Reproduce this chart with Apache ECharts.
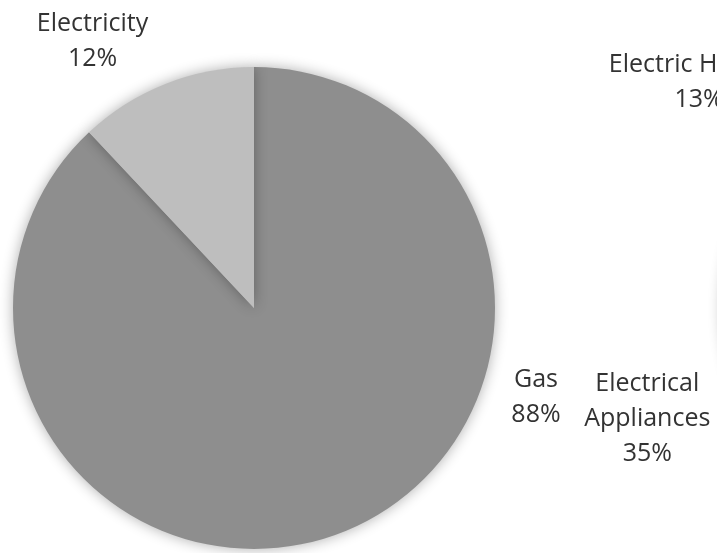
<!DOCTYPE html>
<html>
<head>
<meta charset="utf-8">
<script src="https://cdn.jsdelivr.net/npm/echarts@6/dist/echarts.min.js"></script>
<style>
html,body{margin:0;padding:0;background:#fff;}
#chart{width:717px;height:553px;}
</style>
</head>
<body>
<div id="chart"></div>
<script>
// Left pie: energy source
const sourceCategories = ['Gas', 'Electricity'];
const sourceValues = [88, 12];
// Right pie: electricity use (only part visible)
const useCategories = ['Other', 'Electrical Appliances', 'Electric Heating'];
const useValues = [52, 35, 13];

const sourceColors = ['#8e8e8e', '#bebebe'];
const useColors = ['#f4f4f4', '#a6a6a6', '#d0d0d0'];

// label anchors, in units of the pie radius relative to the pie centre
const sourceLabelAnchor = [[1.17, 0.37], [-0.67, -1.105]];
const useLabelAnchor = [null, [-1.31, 0.46], [-1.095, -0.935]];

const R = 241;
const leftCenter = [254, 308];
const rightCenter = [963, 308];

const textStyle = {
  fontFamily: 'Open Sans',
  fontSize: 25,
  lineHeight: 35,
  color: '#333333',
  align: 'center'
};

function makeLayout(center, anchors) {
  return function (p) {
    const a = anchors[p.dataIndex];
    if (!a) return {};
    return {
      x: center[0] + a[0] * R,
      y: center[1] + a[1] * R,
      align: 'center',
      verticalAlign: 'middle'
    };
  };
}

const itemStyle = {
  shadowBlur: 14,
  shadowColor: 'rgba(0,0,0,0.32)',
  borderWidth: 0
};

const chart = echarts.init(document.getElementById('chart'), null, {renderer: 'canvas'});
chart.setOption({
  animation: false,
  backgroundColor: '#ffffff',
  series: [
    {
      type: 'pie',
      center: leftCenter,
      radius: R,
      startAngle: 90,
      clockwise: true,
      data: sourceCategories.map((c, i) => ({name: c, value: sourceValues[i], itemStyle: {color: sourceColors[i]}})),
      itemStyle: itemStyle,
      label: Object.assign({show: true, position: 'outside', formatter: '{b}\n{d}%'}, textStyle),
      labelLine: {show: false},
      labelLayout: makeLayout(leftCenter, sourceLabelAnchor),
      emphasis: {disabled: true}
    },
    {
      type: 'pie',
      center: rightCenter,
      radius: R,
      startAngle: 90,
      clockwise: true,
      data: useCategories.map((c, i) => ({
        name: c, value: useValues[i],
        itemStyle: {color: useColors[i]},
        label: {show: i !== 0}
      })),
      itemStyle: itemStyle,
      label: Object.assign({show: true, position: 'outside', formatter: function (p) {
        return (p.name === 'Electrical Appliances' ? 'Electrical\nAppliances' : p.name) + '\n' + Math.round(p.percent) + '%';
      }}, textStyle),
      labelLine: {show: false},
      labelLayout: makeLayout(rightCenter, useLabelAnchor),
      emphasis: {disabled: true}
    }
  ]
});
</script>
</body>
</html>
